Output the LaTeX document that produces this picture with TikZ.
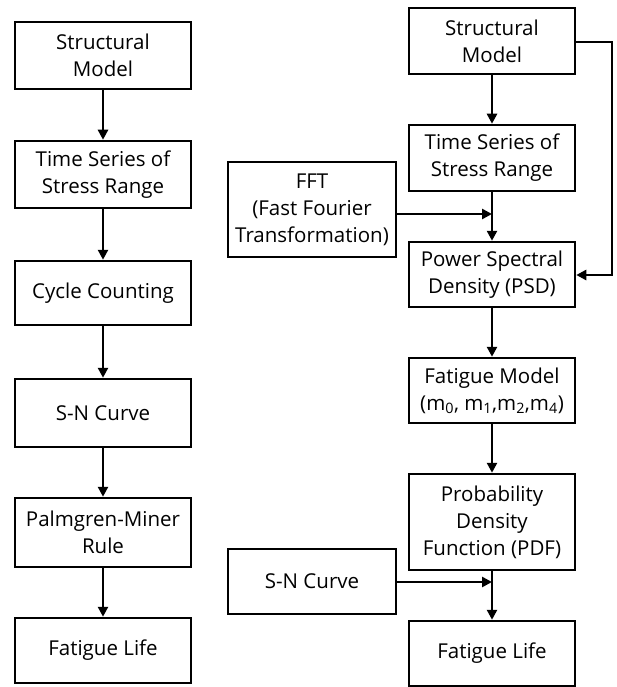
\documentclass[tikz,border=0pt]{standalone}
\usepackage{fontspec}
\setmainfont{Open Sans}
\usetikzlibrary{arrows.meta}
\begin{document}
\begin{tikzpicture}[x=1pt,y=-1pt,
  box/.style={draw, line width=2.5pt, align=center, inner sep=0pt, font=\fontsize{20.5}{27}\selectfont},
  flow/.style={line width=2.5pt, -{Triangle[length=10pt,width=10pt]}}]
\useasboundingbox (0,0) rectangle (616,687);
% left column
\node[box, minimum width=176pt, minimum height=67pt] (L1) at (103,55.5) {Structural\\Model};
\node[box, minimum width=176pt, minimum height=67pt] (L2) at (103,174.5) {Time Series of\\Stress Range};
\node[box, minimum width=176pt, minimum height=64pt] (L3) at (103,293) {Cycle Counting};
\node[box, minimum width=176pt, minimum height=68pt] (L4) at (103,413) {S-N Curve};
\node[box, minimum width=176pt, minimum height=69pt] (L5) at (103,532.5) {Palmgren-Miner\\Rule};
\node[box, minimum width=176pt, minimum height=65pt] (L6) at (103,650.5) {Fatigue Life};
\draw[flow] (L1) -- (L2);
\draw[flow] (L2) -- (L3);
\draw[flow] (L3) -- (L4);
\draw[flow] (L4) -- (L5);
\draw[flow] (L5) -- (L6);
% right column
\node[box, minimum width=166pt, minimum height=66pt] (R1) at (492,41) {Structural\\Model};
\node[box, minimum width=166pt, minimum height=66pt] (R2) at (492,158) {Time Series of\\Stress Range};
\node[box, minimum width=166pt, minimum height=65pt] (R3) at (492,274.5) {Power Spectral\\Density (PSD)};
\node[box, minimum width=166pt, minimum height=65pt] (R4) at (492,390.5) {Fatigue Model\\(m\textsubscript{0}, m\textsubscript{1},m\textsubscript{2},m\textsubscript{4})};
\node[box, minimum width=166pt, minimum height=96pt] (R5) at (492,522) {Probability\\Density\\Function (PDF)};
\node[box, minimum width=166pt, minimum height=65pt] (R6) at (492,653.5) {Fatigue Life};
\node[box, minimum width=168pt, minimum height=95pt] (FFT) at (312,209.5) {FFT\\(Fast Fourier\\Transformation)};
\node[box, minimum width=168pt, minimum height=65pt] (SN) at (312,581.5) {S-N Curve};
\draw[flow] (R1) -- (R2);
\draw[flow] (R2) -- (R3);
\draw[flow] (R3) -- (R4);
\draw[flow] (R4) -- (R5);
\draw[flow] (R5) -- (R6);
\draw[flow] (FFT.east |- 0,214) -- (492,214);
\draw[flow] (SN.east |- 0,582) -- (492,582);
\coordinate (fbA) at (612,42);
\coordinate (fbB) at (612,275);
\draw[flow] (R1.east |- fbA) -- (fbA) -- (fbB) -- (R3.east |- fbB);
\end{tikzpicture}
\end{document}
